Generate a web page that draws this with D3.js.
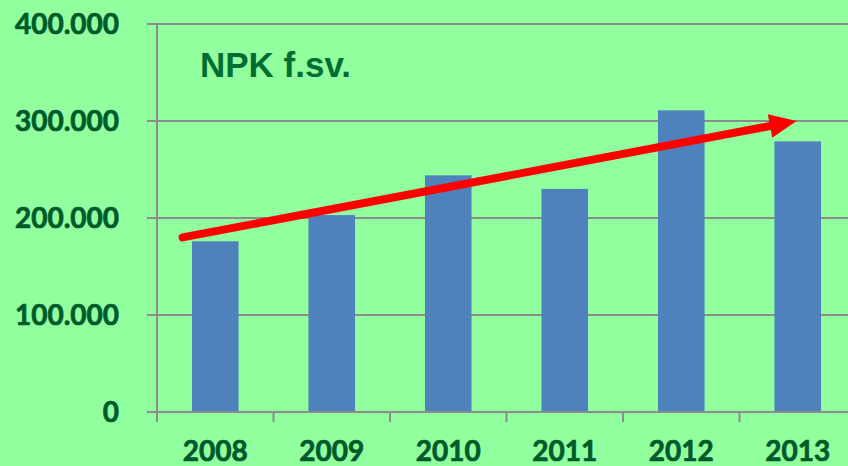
<!DOCTYPE html>
<html>
<head>
<meta charset="utf-8">
<script src="https://cdn.jsdelivr.net/npm/d3@7"></script>
<style>
	body{margin:0;background:#92ff9f;overflow:hidden;}
	.TickLabel{font-family:Lato,"Open Sans",sans-serif;font-weight:bold;fill:#005a2b;stroke:#005a2b;stroke-width:0.7px;}
</style>
</head>
<body>
<div id="idChart"></div>
<script>
var aYears=["2008","2009","2010","2011","2012","2013"];
var aValues=[176000,203000,244000,230000,311000,279000];
var aYTicks=[0,100000,200000,300000,400000];
var aYTickLabels=["0","100.000","200.000","300.000","400.000"];
// trend arrow, in category index and value
var aArrowIdx=[-0.28,4.99];
var aArrowVal=[180000,300000];

var iWidth=848;
var iHeight=466;
var iLeft=157, iTop=24, iBottom=412, iBand=116.5;

var myCanvas=d3.select("#idChart").append("svg")
	.attr("width",iWidth)
	.attr("height",iHeight);

var xAxes=d3.scaleBand().domain(aYears).range([iLeft,iLeft+iBand*aYears.length]).paddingInner(0.6).paddingOuter(0.3);
var xIdx=d3.scaleLinear().domain([0,1]).range([iLeft+iBand/2,iLeft+iBand*1.5]);
var yAxes=d3.scaleLinear().domain([0,400000]).range([iBottom,iTop]);

// gridlines
myCanvas.selectAll(".Grid")
	.data(aYTicks.slice(1))
	.enter().append("line")
	.attr("x1",iLeft-10).attr("x2",iWidth+10)
	.attr("y1",function(d){return yAxes(d);})
	.attr("y2",function(d){return yAxes(d);})
	.attr("stroke","#8c8c8c").attr("stroke-width",2);

// y axis
myCanvas.append("line")
	.attr("x1",iLeft).attr("x2",iLeft)
	.attr("y1",iTop).attr("y2",iBottom+10)
	.attr("stroke","#8c8c8c").attr("stroke-width",2);

myCanvas.selectAll(".TickY")
	.data(aYTicks)
	.enter().append("text")
	.attr("class","TickLabel")
	.attr("x",119)
	.attr("y",function(d){return yAxes(d)+10;})
	.attr("text-anchor","end")
	.style("font-size","28px")
	.text(function(d,i){return aYTickLabels[i];});

// bars
myCanvas.selectAll(".Bar")
	.data(aValues)
	.enter().append("rect")
	.attr("x",function(d,i){return xAxes(aYears[i]);})
	.attr("width",xAxes.bandwidth())
	.attr("y",function(d){return yAxes(d);})
	.attr("height",function(d){return iBottom-yAxes(d);})
	.attr("fill","#4f81bd");

// x axis
myCanvas.append("line")
	.attr("x1",iLeft-10).attr("x2",iWidth+10)
	.attr("y1",iBottom).attr("y2",iBottom)
	.attr("stroke","#8c8c8c").attr("stroke-width",2);

myCanvas.selectAll(".TickX")
	.data(d3.range(aYears.length+1))
	.enter().append("line")
	.attr("x1",function(d){return iLeft+d*iBand;})
	.attr("x2",function(d){return iLeft+d*iBand;})
	.attr("y1",iBottom).attr("y2",iBottom+10)
	.attr("stroke","#8c8c8c").attr("stroke-width",2);

myCanvas.selectAll(".LabelX")
	.data(aYears)
	.enter().append("text")
	.attr("class","TickLabel")
	.attr("x",function(d){return xAxes(d)+xAxes.bandwidth()/2;})
	.attr("y",461)
	.attr("text-anchor","middle")
	.style("font-size","28px")
	.text(function(d){return d;});

// title
myCanvas.append("text")
	.attr("x",200)
	.attr("y",77)
	.style("font-family","'Liberation Sans',Arial,sans-serif")
	.style("font-weight","bold")
	.style("font-size","35px")
	.attr("fill","#006e33")
	.text("NPK f.sv.");

// trend arrow
var x1=xIdx(aArrowIdx[0]), y1=yAxes(aArrowVal[0]);
var x2=xIdx(aArrowIdx[1]), y2=yAxes(aArrowVal[1]);
var fAng=Math.atan2(y2-y1,x2-x1);
var iHead=27, iHalf=12;
var bx=x2-iHead*Math.cos(fAng), by=y2-iHead*Math.sin(fAng);

myCanvas.append("line")
	.attr("x1",x1).attr("y1",y1)
	.attr("x2",bx).attr("y2",by)
	.attr("stroke","#ff0000").attr("stroke-width",8)
	.attr("stroke-linecap","round");

myCanvas.append("polygon")
	.attr("points",[
		[x2,y2],
		[bx+iHalf*Math.sin(fAng),by-iHalf*Math.cos(fAng)],
		[bx-iHalf*Math.sin(fAng),by+iHalf*Math.cos(fAng)]
	].map(function(p){return p.join(",");}).join(" "))
	.attr("fill","#ff0000");
</script>
</body>
</html>
